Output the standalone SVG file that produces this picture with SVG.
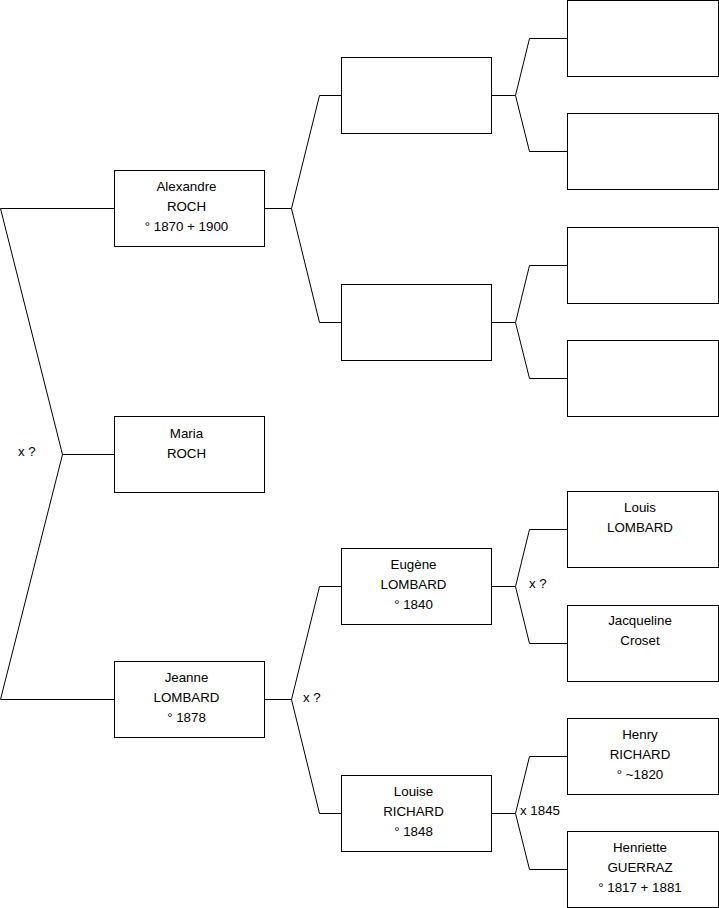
<svg xmlns="http://www.w3.org/2000/svg" width="719" height="908" viewBox="0 0 719 908">
<style>
.box{fill:#fff;stroke:#000;stroke-width:1}
.ln{fill:none;stroke:#000;stroke-width:1}
text{font-family:"Liberation Sans",Arial,sans-serif;font-size:13.33px;fill:#000}
.c{text-anchor:middle}
</style>
<rect width="719" height="908" fill="#fff"/>
<g id="connectors">
<polyline class="ln" points="114,208.5 0.5,208.5 62.5,454.5 0.5,699.5 114,699.5"/>
<polyline class="ln" points="62.5,454.5 114,454.5"/>
<polyline class="ln" points="265,208.5 291.5,208.5 319.5,95.5 341,95.5"/>
<polyline class="ln" points="291.5,208.5 319.5,322.5 341,322.5"/>
<polyline class="ln" points="265,699.5 291.5,699.5 319.5,586.5 341,586.5"/>
<polyline class="ln" points="291.5,699.5 319.5,813.5 341,813.5"/>
<polyline class="ln" points="492,95.5 515.5,95.5 529.5,38.5 567,38.5"/>
<polyline class="ln" points="515.5,95.5 529.5,151.5 567,151.5"/>
<polyline class="ln" points="492,322.5 515.5,322.5 529.5,265.5 567,265.5"/>
<polyline class="ln" points="515.5,322.5 529.5,378.5 567,378.5"/>
<polyline class="ln" points="492,586.5 515.5,586.5 529.5,529.5 567,529.5"/>
<polyline class="ln" points="515.5,586.5 529.5,643.5 567,643.5"/>
<polyline class="ln" points="492,813.5 515.5,813.5 529.5,756.5 567,756.5"/>
<polyline class="ln" points="515.5,813.5 529.5,869.5 567,869.5"/>
<text x="18" y="456">x ?</text>
<text x="303" y="702">x ?</text>
<text x="529" y="588">x ?</text>
<text x="520" y="815">x 1845</text>
</g>
<g id="alexandre"><rect class="box" x="114.5" y="170.5" width="150" height="76"/><text class="c" x="186.5" y="191">Alexandre</text><text class="c" x="186.5" y="211">ROCH</text><text class="c" x="186.5" y="231">° 1870 + 1900</text></g>
<g id="maria"><rect class="box" x="114.5" y="416.5" width="150" height="76"/><text class="c" x="186.5" y="438">Maria</text><text class="c" x="186.5" y="458">ROCH</text></g>
<g id="jeanne"><rect class="box" x="114.5" y="661.5" width="150" height="76"/><text class="c" x="186.5" y="682">Jeanne</text><text class="c" x="186.5" y="702">LOMBARD</text><text class="c" x="186.5" y="722">° 1878</text></g>
<g id="g2a"><rect class="box" x="341.5" y="57.5" width="150" height="76"/></g>
<g id="g2b"><rect class="box" x="341.5" y="284.5" width="150" height="76"/></g>
<g id="eugene"><rect class="box" x="341.5" y="548.5" width="150" height="76"/><text class="c" x="413.5" y="569">Eugène</text><text class="c" x="413.5" y="589">LOMBARD</text><text class="c" x="413.5" y="609">° 1840</text></g>
<g id="louise"><rect class="box" x="341.5" y="775.5" width="150" height="76"/><text class="c" x="413.5" y="796">Louise</text><text class="c" x="413.5" y="816">RICHARD</text><text class="c" x="413.5" y="836">° 1848</text></g>
<g id="g3a"><rect class="box" x="567.5" y="0.5" width="151" height="76"/></g>
<g id="g3b"><rect class="box" x="567.5" y="113.5" width="151" height="76"/></g>
<g id="g3c"><rect class="box" x="567.5" y="227.5" width="151" height="76"/></g>
<g id="g3d"><rect class="box" x="567.5" y="340.5" width="151" height="76"/></g>
<g id="louis"><rect class="box" x="567.5" y="491.5" width="151" height="76"/><text class="c" x="640" y="512">Louis</text><text class="c" x="640" y="532">LOMBARD</text></g>
<g id="jacqueline"><rect class="box" x="567.5" y="605.5" width="151" height="76"/><text class="c" x="640" y="625">Jacqueline</text><text class="c" x="640" y="645">Croset</text></g>
<g id="henry"><rect class="box" x="567.5" y="718.5" width="151" height="76"/><text class="c" x="640" y="739">Henry</text><text class="c" x="640" y="759">RICHARD</text><text class="c" x="640" y="779">° ~1820</text></g>
<g id="henriette"><rect class="box" x="567.5" y="831.5" width="151" height="76"/><text class="c" x="640" y="852">Henriette</text><text class="c" x="640" y="872">GUERRAZ</text><text class="c" x="640" y="892">° 1817 + 1881</text></g>
</svg>
